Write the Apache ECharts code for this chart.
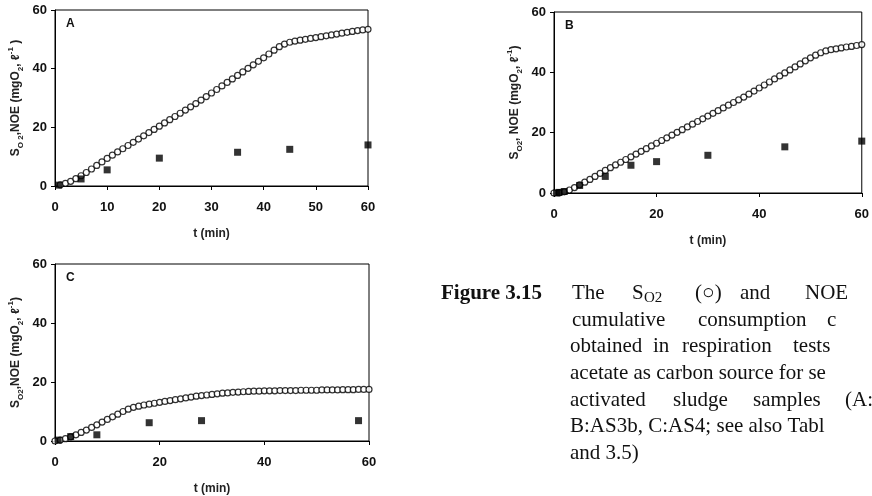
<!DOCTYPE html>
<html><head><meta charset="utf-8">
<script src="https://cdn.jsdelivr.net/npm/echarts@6/dist/echarts.min.js"></script>
<style>html,body{margin:0;padding:0;background:#fff}#c{width:872px;height:496px}</style>
</head><body><div id="c"></div>
<script>
// ---------- data ----------
const tA = [1,2,3,4,5,6,7,8,9,10,11,12,13,14,15,16,17,18,19,20,21,22,23,24,25,26,27,28,29,30,31,32,33,34,35,36,37,38,39,40,41,42,43,44,45,46,47,48,49,50,51,52,53,54,55,56,57,58,59,60];
const so2A = [0.4,0.9,1.6,2.5,3.5,4.6,5.8,7.0,8.2,9.4,10.5,11.6,12.7,13.8,14.9,16.0,17.1,18.2,19.3,20.4,21.5,22.6,23.7,24.8,25.9,27.0,28.1,29.3,30.5,31.7,32.9,34.1,35.3,36.5,37.7,38.9,40.1,41.3,42.5,43.7,45.0,46.3,47.5,48.4,49.0,49.4,49.7,50.0,50.3,50.6,50.9,51.2,51.5,51.8,52.1,52.4,52.7,53.0,53.2,53.4];
const tNoeA = [0.7,5,10,20,35,45,60];
const noeA = [0.3,2.4,5.5,9.5,11.5,12.5,14.0];

const tB = [0,1,2,3,4,5,6,7,8,9,10,11,12,13,14,15,16,17,18,19,20,21,22,23,24,25,26,27,28,29,30,31,32,33,34,35,36,37,38,39,40,41,42,43,44,45,46,47,48,49,50,51,52,53,54,55,56,57,58,59,60];
const so2B = [0.0,0.1,0.4,1.0,1.8,2.7,3.6,4.5,5.5,6.5,7.5,8.4,9.3,10.2,11.1,12.0,12.9,13.8,14.7,15.6,16.5,17.4,18.3,19.2,20.1,21.0,21.9,22.8,23.7,24.6,25.5,26.4,27.3,28.2,29.1,30.0,30.9,31.8,32.8,33.8,34.8,35.8,36.8,37.8,38.8,39.8,40.8,41.8,42.8,43.8,44.8,45.7,46.5,47.1,47.5,47.8,48.1,48.4,48.6,48.9,49.2];
const tNoeB = [0.5,1,2,5,10,15,20,30,45,60];
const noeB = [0.0,0.2,0.5,2.5,5.5,9.2,10.4,12.5,15.3,17.2];

const tC = [0,1,2,3,4,5,6,7,8,9,10,11,12,13,14,15,16,17,18,19,20,21,22,23,24,25,26,27,28,29,30,31,32,33,34,35,36,37,38,39,40,41,42,43,44,45,46,47,48,49,50,51,52,53,54,55,56,57,58,59,60];
const so2C = [0,0.3,0.8,1.4,2.1,2.9,3.7,4.6,5.5,6.4,7.3,8.2,9.1,10.0,10.8,11.4,11.8,12.2,12.5,12.8,13.1,13.4,13.7,14.0,14.3,14.6,14.9,15.2,15.4,15.6,15.8,16.0,16.2,16.3,16.5,16.6,16.7,16.8,16.9,16.9,17.0,17.0,17.0,17.1,17.1,17.1,17.1,17.2,17.2,17.2,17.2,17.3,17.3,17.3,17.3,17.4,17.4,17.4,17.5,17.5,17.5];
const tNoeC = [0.6,3,8,18,28,58];
const noeC = [0.3,1.5,2.1,6.2,6.9,6.9];

const panelLetters = ['A','B','C'];
const xTickStep = [10,20,20];
const yTicks = [0,20,40,60];

// ---------- build ----------
const zip = (xs, ys) => xs.map((x,i)=>[x, ys[i]]);
const grids = [
  {left:55, top:10, width:313, height:176},
  {left:554, top:12, width:309, height:181},
  {left:55, top:264, width:314, height:181}
];
const yNames = [
  '{b|S}{sub|O 2}{b|,NOE (mgO}{sub|2}{b|, ℓ}{sup|-1}{b| )}',
  '{b|S}{sub|O2}{b|, NOE (mgO}{sub|2}{b|, ℓ}{sup|-1}{b|)}',
  '{b|S}{sub|O2}{b|,NOE (mgO}{sub|2}{b|, ℓ}{sup|-1}{b|)}'
];
const lblFont = {fontFamily:'Liberation Sans, Arial', fontWeight:'bold', fontSize:13, color:'#111'};
const richName = {
  b:{fontFamily:'Liberation Sans, Arial', fontSize:12, fontWeight:'bold', color:'#222', lineHeight:18},
  sub:{fontFamily:'Liberation Sans, Arial', fontSize:8, fontWeight:'bold', color:'#222', lineHeight:8, verticalAlign:'bottom'},
  sup:{fontFamily:'Liberation Sans, Arial', fontSize:8, fontWeight:'bold', color:'#222', lineHeight:8, verticalAlign:'top'}
};
const axisLine = {show:true, lineStyle:{color:'#000', width:1}};
const xAxes = grids.map((g,i)=>({
  type:'value', gridIndex:i, min:0, max:60, interval:xTickStep[i],
  axisLine, axisTick:{show:true, length:4, lineStyle:{color:'#000'}},
  splitLine:{show:false},
  axisLabel:Object.assign({margin:15}, lblFont),
  name:'t (min)', nameLocation:'middle', nameGap:42,
  nameTextStyle:{fontFamily:'Liberation Sans, Arial', fontSize:12, fontWeight:'bold', color:'#222'}
}));
const yAxes = grids.map((g,i)=>({
  type:'value', gridIndex:i, min:0, max:60, interval:20,
  axisLine, axisTick:{show:true, length:4, lineStyle:{color:'#000'}},
  splitLine:{show:false},
  axisLabel:Object.assign({margin:8}, lblFont),
  name:yNames[i], nameLocation:'middle', nameRotate:90, nameGap:30,
  nameTextStyle:{rich:richName}
}));
const circ = {symbol:'circle', symbolSize:6, itemStyle:{color:'#fff', borderColor:'#000', borderWidth:1.2}};
const sq = {symbol:'rect', symbolSize:7, itemStyle:{color:'#000'}};
const series = [
  Object.assign({type:'scatter', name:'SO2 A', xAxisIndex:0, yAxisIndex:0, data:zip(tA, so2A)}, circ),
  Object.assign({type:'scatter', name:'NOE A', xAxisIndex:0, yAxisIndex:0, data:zip(tNoeA, noeA)}, sq),
  Object.assign({type:'scatter', name:'SO2 B', xAxisIndex:1, yAxisIndex:1, data:zip(tB, so2B)}, circ),
  Object.assign({type:'scatter', name:'NOE B', xAxisIndex:1, yAxisIndex:1, data:zip(tNoeB, noeB)}, sq),
  Object.assign({type:'scatter', name:'SO2 C', xAxisIndex:2, yAxisIndex:2, data:zip(tC, so2C)}, circ),
  Object.assign({type:'scatter', name:'NOE C', xAxisIndex:2, yAxisIndex:2, data:zip(tNoeC, noeC)}, sq)
];

// caption
const serif = 'Liberation Serif, Times New Roman, serif';
const capFont = '21px ' + serif;
const lineY = [295, 322, 348, 375, 402, 428, 455];
const capWords = [
  [572,0,'The'], [695,0,'(○)'], [740,0,'and'], [805,0,'NOE'],
  [572,1,'cumulative'], [698,1,'consumption'], [827,1,'c'],
  [570,2,'obtained'], [653,2,'in'], [682,2,'respiration'], [793,2,'tests'],
  [570,3,'acetate as carbon source for se'],
  [570,4,'activated'], [673,4,'sludge'], [753,4,'samples'], [845,4,'(A:'],
  [570,5,'B:AS3b, C:AS4; see also Tabl'],
  [570,6,'and 3.5)']
];
const graphic = capWords.map(w=>({type:'text', left:w[0], top:lineY[w[1]]-12,
  style:{text:w[2], font:capFont, fill:'#111'}}));
graphic.push({type:'text', left:441, top:lineY[0]-12, style:{text:'Figure 3.15', font:'bold 21px ' + serif, fill:'#111'}});
graphic.push({type:'text', left:632, top:lineY[0]-12, style:{text:'S', font:capFont, fill:'#111'}});
graphic.push({type:'text', left:644, top:lineY[0]-4, style:{text:'O2', font:'15px ' + serif, fill:'#111'}});
// panel letters
grids.forEach((g,i)=>{
  graphic.push({type:'text', left:g.left+11, top:g.top+8, style:{text:panelLetters[i], font:'bold 12px Liberation Sans, Arial', fill:'#111'}});
});

const chart = echarts.init(document.getElementById('c'), null, {renderer:'canvas'});
chart.setOption({
  animation:false,
  backgroundColor:'#fff',
  grid: grids.map(g=>Object.assign({show:true, borderColor:'#000', borderWidth:1, backgroundColor:'transparent', containLabel:false}, g)),
  xAxis:xAxes, yAxis:yAxes, series, graphic
});
</script></body></html>
